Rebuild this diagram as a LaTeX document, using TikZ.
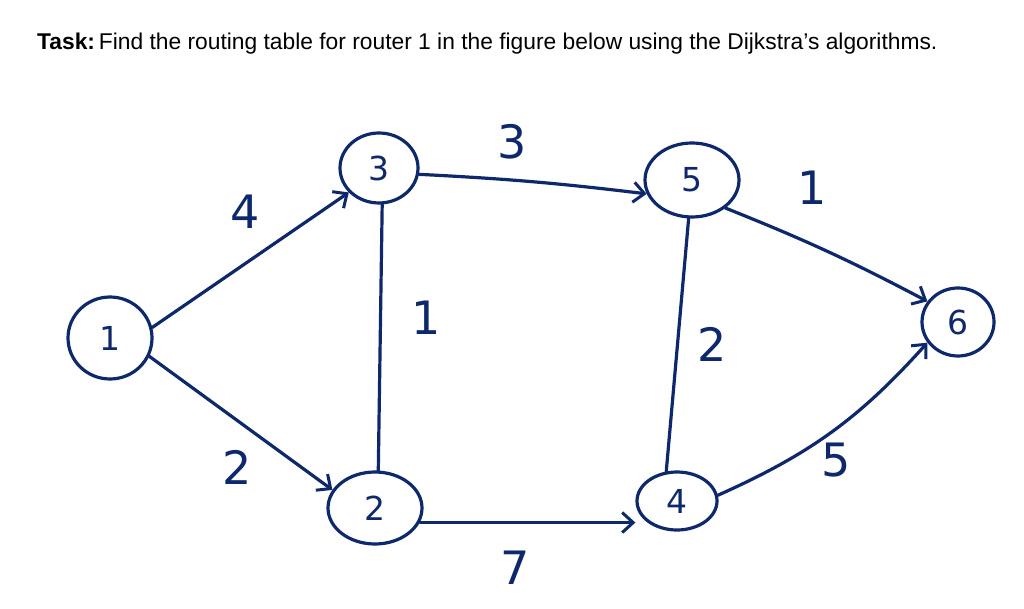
\documentclass[tikz,border=0pt]{standalone}
\usepackage{fontspec}
\setmainfont{Liberation Sans}
\newfontfamily\handfont{DejaVu Sans}
\usetikzlibrary{shapes.geometric,arrows.meta}
\definecolor{ink}{RGB}{14,40,108}
\tikzset{
  router/.style={ellipse,draw=ink,line width=3.2pt,inner sep=0pt,text=ink,font=\handfont\fontsize{33}{33}\selectfont},
  link/.style={draw=ink,line width=3.2pt,line cap=round},
  dlink/.style={link,-{Straight Barb[length=11pt,width=20pt,line width=3pt]}},
  wlabel/.style={text=ink,font=\handfont\fontsize{46}{46}\selectfont}
}
\begin{document}
\begin{tikzpicture}[x=1pt,y=-1pt]
\useasboundingbox[fill=white] (0,0) rectangle (1024,609);
\node[anchor=base west,inner sep=0pt,font=\fontsize{22.8}{23}\selectfont] (title) at (37,50) {\textbf{Task:}\,Find the routing table for router 1 in the figure below using the Dijkstra’s algorithms.};
\node[router,minimum width=84pt,minimum height=82pt] (n1) at (110,338) {1};
\node[router,minimum width=78pt,minimum height=70pt] (n3) at (379,168) {3};
\node[router,minimum width=94pt,minimum height=72pt] (n2) at (375,508) {2};
\node[router,minimum width=80pt,minimum height=58pt] (n4) at (677,501) {4};
\node[router,minimum width=94pt,minimum height=74pt] (n5) at (692,180) {5};
\node[router,minimum width=72pt,minimum height=68pt] (n6) at (958,322) {6};
\draw[dlink] (n1.14) -- (n3.219);
\draw[dlink] (n1.335) -- (n2.157);
\draw[dlink] (n3.351) to[bend left=2] (n5.197);
\draw[link] (n3.275) -- (n2.85);
\draw[dlink] (n2.-18) -- (n2.-18 -| n4.west);
\draw[link] (n5.265) -- (n4.110);
\draw[dlink] (n5.320) to[bend left=3] (n6.146);
\draw[dlink] (n4.8) to[bend right=12] (n6.214);
\node[wlabel] (l13) at (245,212) {4};
\node[wlabel] (l12) at (237,467) {2};
\node[wlabel] (l35) at (512,142) {3};
\node[wlabel] (l32) at (426,318) {1};
\node[wlabel] (l24) at (515,568) {7};
\node[wlabel] (l54) at (712,344) {2};
\node[wlabel] (l56) at (812,188) {1};
\node[wlabel] (l46) at (836,460) {5};
\end{tikzpicture}
\end{document}
